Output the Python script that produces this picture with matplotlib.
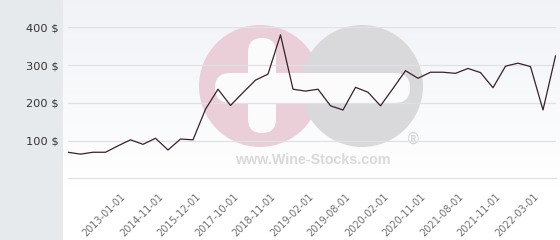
"""Wine price history chart with Wine-Stocks style watermark."""

import numpy as np
import matplotlib
matplotlib.use("Agg")
import matplotlib.pyplot as plt
from matplotlib.patches import Rectangle, Circle, FancyBboxPatch
from matplotlib.transforms import ScaledTranslation

plt.rcParams["font.family"] = "DejaVu Sans"

# price per observation (category axis, one point per listing date)
prices = [69, 64, 69, 69, 86, 102, 90, 106, 75, 104,
          102, 183, 236, 193, 227, 260, 276, 380, 236, 231,
          236, 192, 181, 241, 228, 192, 238, 285, 265, 281,
          281, 278, 291, 280, 240, 297, 305, 296, 181, 324]

tick_labels = ["2013-01-01", "2014-11-01", "2015-12-01", "2017-10-01",
               "2018-11-01", "2019-02-01", "2019-08-01", "2020-02-01",
               "2020-11-01", "2021-08-01", "2021-11-01", "2022-03-01"]
FIRST_TICK = 4
TICK_EVERY = 3

y_ticks = [100, 200, 300, 400]

W, H = 560, 240
fig = plt.figure(figsize=(W / 100, H / 100), dpi=100)

# --- background layer in pixel coords ---
bg = fig.add_axes([0, 0, 1, 1])
bg.set_xlim(0, W)
bg.set_ylim(H, 0)
bg.axis("off")

bg.add_patch(Rectangle((0, 0), 63, H, facecolor="#e6eaed", edgecolor="none"))
top = np.array([0.945, 0.952, 0.968])
frac = np.clip(np.linspace(0, 1, 256) * 1.3, 0, 1)[:, None]
img = top + (1.0 - top) * frac
bg.imshow(img.reshape(256, 1, 3), extent=(63, W, H, 0), aspect="auto", zorder=0)

# watermark
bg.add_patch(Circle((260, 86), 61, facecolor="#eacfd8", edgecolor="none", zorder=1))
bg.add_patch(Circle((362, 86), 61, facecolor="#d9d9db", edgecolor="none", zorder=2))
bg.add_patch(FancyBboxPatch((262, 52), 0, 67, boxstyle="round,pad=14",
                            facecolor="#fbfbfc", edgecolor="none", zorder=3))
bg.add_patch(FancyBboxPatch((230, 88), 165, 0, boxstyle="round,pad=15",
                            facecolor="#fbfbfc", edgecolor="none", zorder=3))
bg.text(313, 160, "www.Wine-Stocks.com", ha="center", va="center",
        fontsize=10.3, fontweight="bold", family="Liberation Sans",
        color="#d9d9d9", zorder=3)
bg.text(413, 139, "®", ha="center", va="center", fontsize=10.5,
        color="#d2d2d4", zorder=3)

# --- chart ---
ax = fig.add_axes([68 / W, (H - 178.3) / H, 487.5 / W, 151 / H])
ax.patch.set_alpha(0)
x = np.arange(len(prices))
ax.plot(x, prices, color="#3a1f2c", linewidth=0.9, zorder=3)

ax.set_xlim(0, len(prices) - 1)
ax.set_ylim(0, 400)
ax.set_yticks(y_ticks)
ax.set_yticklabels([f"{v} $" for v in y_ticks], fontsize=8.2, color="#333333")
ax.yaxis.grid(True, color="#dfe1e5", linewidth=0.9)
for s in ax.spines.values():
    s.set_visible(False)
ax.axhline(0, color="#dfe1e5", linewidth=0.9, clip_on=False)
ax.tick_params(axis="y", length=0, pad=7)

tick_pos = x[FIRST_TICK::TICK_EVERY][:len(tick_labels)]
ax.set_xticks(tick_pos)
ax.set_xticklabels(tick_labels, rotation=45, ha="right", va="center",
                   rotation_mode="anchor", fontsize=7, color="#707070")
ax.tick_params(axis="x", length=0, pad=12)
offset = ScaledTranslation(6 / 100, 0, fig.dpi_scale_trans)
for lbl in ax.get_xticklabels():
    lbl.set_transform(lbl.get_transform() + offset)

fig.savefig("out.png", dpi=100)
